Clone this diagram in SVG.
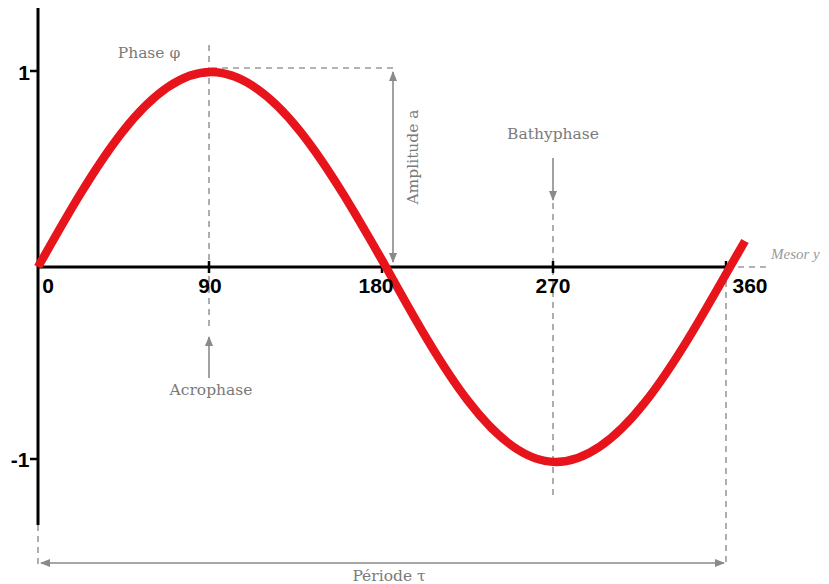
<svg xmlns="http://www.w3.org/2000/svg" width="829" height="584" viewBox="0 0 829 584">
<style>
.axis{stroke:#000;stroke-width:3;fill:none}
.tick{stroke:#000;stroke-width:2.5}
.dash{stroke:#9a9a9a;stroke-width:1.6;stroke-dasharray:6 5;fill:none}
.arr{stroke:#8a8a8a;stroke-width:1.6;fill:none}
.num{font-family:"Liberation Sans",Arial,sans-serif;font-weight:bold;font-size:21px;fill:#000}
.lbl{font-family:"DejaVu Serif","Liberation Serif",serif;font-size:15.5px;fill:#7a7a7a}
.ital{font-family:"Liberation Serif",serif;font-style:italic;font-size:15px;fill:#999}
</style>
<defs>
<marker id="ah" viewBox="0 0 10 10" refX="9" refY="5" markerWidth="10" markerHeight="10" markerUnits="userSpaceOnUse" orient="auto-start-reverse">
<path d="M0,1 L10,5 L0,9 Z" fill="#8a8a8a"/>
</marker>
</defs>
<rect width="829" height="584" fill="#fff"/>
<g id="guides">
<line class="dash" x1="209" y1="45" x2="209" y2="330"/>
<line class="dash" x1="211" y1="68" x2="393" y2="68"/>
<line class="dash" x1="553" y1="203" x2="553" y2="500"/>
<line class="dash" x1="727" y1="267" x2="770" y2="267"/>
<line class="dash" x1="726" y1="270" x2="726" y2="565"/>
<line class="dash" x1="38" y1="525" x2="38" y2="565"/>
</g>
<g id="axes">
<line class="axis" x1="38" y1="8" x2="38" y2="525"/>
<line class="axis" x1="38" y1="267" x2="727" y2="267"/>
<line class="tick" x1="30" y1="71" x2="38" y2="71"/>
<line class="tick" x1="30" y1="459" x2="38" y2="459"/>
<line class="tick" x1="209" y1="261" x2="209" y2="273"/>
<line class="tick" x1="382" y1="261" x2="382" y2="273"/>
<line class="tick" x1="553" y1="261" x2="553" y2="273"/>
<line class="tick" x1="726" y1="261" x2="726" y2="273"/>
</g>
<g id="curve">
<path d="M38,267 C94.4,167.1 148.7,72 211,72 C274,72 328.9,167.1 386,267 C441.4,366.9 494.8,462 556,462 C618.7,462 673.3,366.9 730,267 L745,241" fill="none" stroke="#e8141b" stroke-width="8.5"/>
</g>
<g id="connectors">
<line class="arr" x1="393" y1="72" x2="393" y2="262" marker-start="url(#ah)" marker-end="url(#ah)"/>
<line class="arr" x1="209" y1="378" x2="209" y2="337" marker-end="url(#ah)"/>
<line class="arr" x1="553" y1="158" x2="553" y2="200" marker-end="url(#ah)"/>
<line class="arr" x1="41" y1="563" x2="724" y2="563" marker-start="url(#ah)" marker-end="url(#ah)"/>
</g>
<g id="labels">
<text class="num" x="24" y="80" text-anchor="middle">1</text>
<text class="num" x="20" y="467" text-anchor="middle">-1</text>
<text class="num" x="48" y="293" text-anchor="middle">0</text>
<text class="num" x="210" y="293" text-anchor="middle">90</text>
<text class="num" x="376" y="293" text-anchor="middle">180</text>
<text class="num" x="553" y="293" text-anchor="middle">270</text>
<text class="num" x="750" y="293" text-anchor="middle">360</text>
<text class="lbl" x="149" y="58" text-anchor="middle">Phase φ</text>
<text class="lbl" x="211" y="395" text-anchor="middle">Acrophase</text>
<text class="lbl" x="553" y="139" text-anchor="middle">Bathyphase</text>
<text class="lbl" transform="translate(418,157) rotate(-90)" text-anchor="middle">Amplitude a</text>
<text class="ital" x="771" y="259">Mesor y</text>
<text class="lbl" x="389" y="581" text-anchor="middle">Période τ</text>
</g>
</svg>
